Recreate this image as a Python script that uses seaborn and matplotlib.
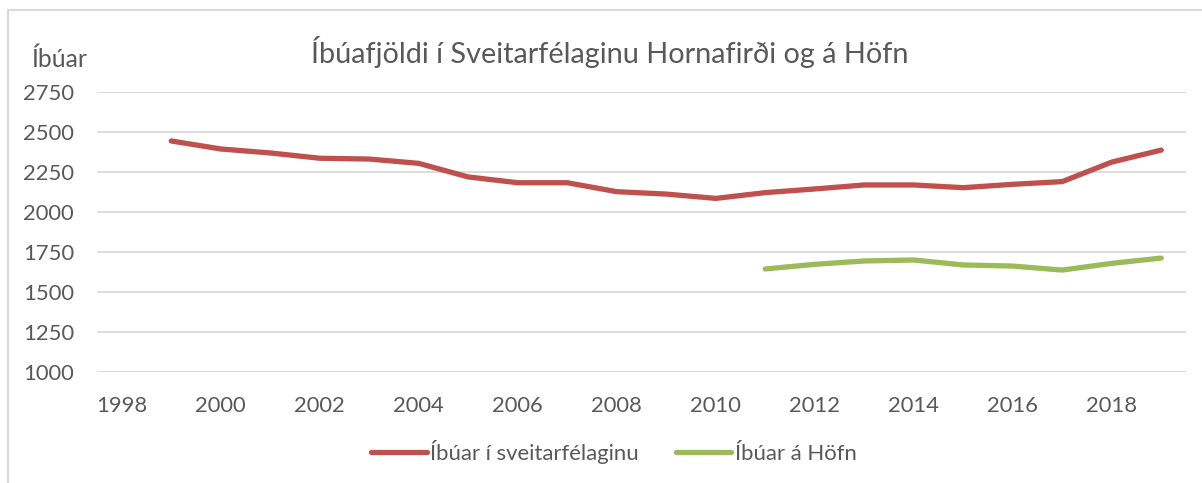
import matplotlib
matplotlib.use("Agg")
import matplotlib.pyplot as plt
from matplotlib.lines import Line2D
import seaborn as sns
import pandas as pd

years_total = list(range(1999, 2020))
total = [2444, 2394, 2369, 2336, 2331, 2304, 2219, 2183, 2183, 2127, 2112,
         2085, 2121, 2144, 2169, 2169, 2152, 2173, 2190, 2312, 2387]
years_hofn = list(range(2011, 2020))
hofn = [1644, 1673, 1694, 1700, 1669, 1662, 1637, 1679, 1712]

name_total = "Íbúar í sveitarfélaginu"
name_hofn = "Íbúar á Höfn"
title = "Íbúafjöldi í Sveitarfélaginu Hornafirði og á Höfn"
ylabel = "Íbúar"
xticks = list(range(1998, 2019, 2))
yticks = [1000, 1250, 1500, 1750, 2000, 2250, 2500, 2750]

df = pd.concat([
    pd.DataFrame({"Ár": years_total, "Íbúar": total, "Röð": name_total}),
    pd.DataFrame({"Ár": years_hofn, "Íbúar": hofn, "Röð": name_hofn}),
])

sns.set_theme(style="white")
plt.rcParams["font.family"] = ["Lato", "DejaVu Sans"]

text_color = "#595959"
grid_color = "#d9d9d9"
palette = {name_total: "#C0504D", name_hofn: "#9BBB59"}

fig = plt.figure(figsize=(12.02, 4.83), dpi=100)
ax = fig.add_axes([97/1202, 1-372/483, (1186-97)/1202, (372-92)/483])

sns.lineplot(data=df, x="Ár", y="Íbúar", hue="Röð", palette=palette,
             linewidth=3.8, ax=ax, legend=False, solid_capstyle="round")

ax.set_xlim(1997.5, 2019.5)
ax.set_ylim(1000, 2750)
ax.set_xticks(xticks)
ax.set_yticks(yticks)
ax.set_xticklabels([str(x) for x in xticks])
ax.set_yticklabels([str(y) for y in yticks])
ax.tick_params(axis="both", length=0, labelsize=15.8, colors=text_color)
ax.tick_params(axis="y", pad=16.5)
ax.tick_params(axis="x", pad=17)
ax.grid(axis="y", color=grid_color, linewidth=1.3)
ax.set_axisbelow(True)
for s in ax.spines.values():
    s.set_visible(False)
ax.set_xlabel("")
ax.set_ylabel("")

fig.text(31/1202, 1-59/483, ylabel, fontsize=17.8, color=text_color,
         ha="left", va="center")
fig.text(610/1202, 1-52/483, title, fontsize=20.8, color=text_color,
         ha="center", va="center")

handles = [Line2D([0], [0], color=palette[name_total], linewidth=3.8, solid_capstyle="round"),
           Line2D([0], [0], color=palette[name_hofn], linewidth=3.8, solid_capstyle="round")]
leg = fig.legend(handles, [name_total, name_hofn], loc="center",
                 bbox_to_anchor=(614/1202, 1-452/483), ncol=2, frameon=False,
                 fontsize=15.9, handlelength=2.5, handletextpad=0.15,
                 columnspacing=1.7, labelcolor=text_color)

# chart frame (partially visible)
fig.add_artist(Line2D([8/1202, 8/1202], [0, 1-10/483], color=grid_color,
                      linewidth=1.5, transform=fig.transFigure))
fig.add_artist(Line2D([8/1202, 1], [1-10/483, 1-10/483], color=grid_color,
                      linewidth=1.5, transform=fig.transFigure))

fig.savefig("out.png", dpi=100)
